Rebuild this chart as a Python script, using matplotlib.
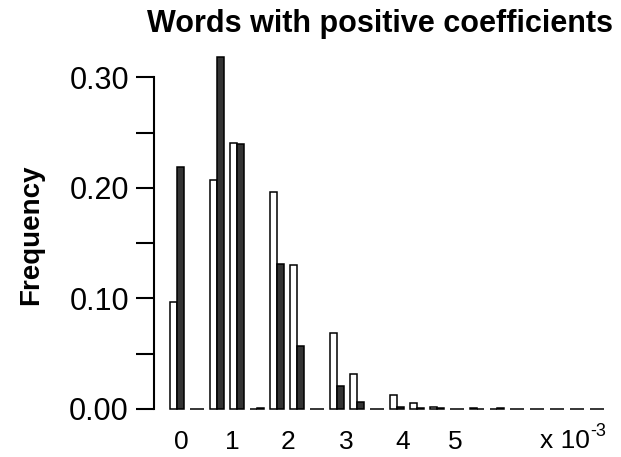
import numpy as np
import matplotlib
matplotlib.use("Agg")
import matplotlib.pyplot as plt

plt.rcParams['font.family'] = ['Liberation Sans', 'DejaVu Sans']

# Histogram of coefficient values (bins of ~0.37 x 10^-3), two samples per bin
freq_open = [0.097, 0.0, 0.207, 0.241, 0.0, 0.196, 0.130, 0.0, 0.069, 0.032, 0.0,
             0.013, 0.005, 0.002, 0.0, 0.0006, 0.0, 0.0, 0.0, 0.0, 0.0, 0.0]
freq_filled = [0.219, 0.0, 0.318, 0.240, 0.001, 0.131, 0.057, 0.0, 0.021, 0.0065, 0.0,
               0.0015, 0.001, 0.001, 0.0, 0.0, 0.0005, 0.0, 0.0, 0.0, 0.0, 0.0]

# x tick labels (units of 10^-3) and where they fall along the bin index axis
xtick_labels = ['0', '1', '2', '3', '4', '5']
xtick_pos = [0.235, 2.775, 5.565, 8.45, 11.285, 13.9]

yticks = [0.0, 0.10, 0.20, 0.30]
ytick_labels = ['0.00', '0.10', '0.20', '0.30']

W, H = 621, 457
fig = plt.figure(figsize=(W / 100, H / 100), dpi=100)
ax = fig.add_axes([154 / W, (H - 409) / H, 462 / W, (409 - 77.3) / H])

idx = np.arange(len(freq_open))
bw = 0.35
ax.bar(idx - bw / 2, freq_open, width=bw, color='white', edgecolor='black',
       linewidth=1.1, clip_on=False, zorder=3)
ax.bar(idx + bw / 2, freq_filled, width=bw, color='#333333', edgecolor='black',
       linewidth=1.1, clip_on=False, zorder=3)

ax.set_xlim(-1.15, 21.95)
ax.set_ylim(0, 0.30)

for s in ['top', 'right', 'bottom']:
    ax.spines[s].set_visible(False)
ax.spines['left'].set_linewidth(1.5)

ax.set_yticks(yticks)
ax.set_yticklabels(ytick_labels, fontsize=22)
ax.set_yticks([0.05, 0.15, 0.25], minor=True)
ax.tick_params(axis='y', which='both', length=13, width=1.5, pad=5)

ax.set_xticks(xtick_pos)
ax.set_xticklabels(xtick_labels, fontsize=19)
ax.tick_params(axis='x', which='both', length=0, pad=15)

fig.text(31 / W, 1 - 235 / H, 'Frequency', fontsize=20, fontweight='bold',
         rotation=90, ha='center', va='center')

fig.text(380 / W, 1 - 31.7 / H, 'Words with positive coefficients', fontsize=22,
         fontweight='bold', ha='center', va='baseline')

# exponent for the x axis
fig.text(590 / W, 1 - 441 / H, 'x 10', fontsize=19, ha='right', va='center')
fig.text(590 / W, 1 - 432 / H, '-3', fontsize=13, ha='left', va='center')

fig.savefig('out.png', dpi=100)
